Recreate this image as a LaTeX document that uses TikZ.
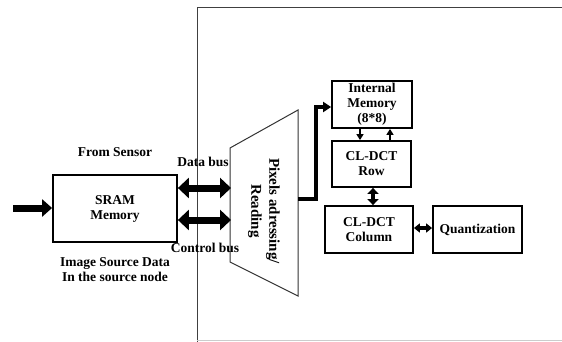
\documentclass[tikz,border=0pt]{standalone}
\usepackage{fontspec}
\setmainfont{Liberation Serif}
\usetikzlibrary{arrows.meta,calc}
\begin{document}
\begin{tikzpicture}[x=1pt,y=-1pt,
  every node/.style={font=\fontsize{13.5}{15}\selectfont\bfseries, align=center, inner sep=0pt},
  blk/.style={draw, line width=1.8pt},
  lbl/.style={},
  frameline/.style={draw=black!75, line width=1pt},
  bigarrow/.style={line width=7pt, -{Triangle[length=10pt,width=17pt]}},
  busarrow/.style={line width=7pt, {Triangle[length=11pt,width=20pt]}-{Triangle[length=11pt,width=20pt]}},
  outarrow/.style={line width=3.5pt, -{Triangle[length=8pt,width=10pt]}},
  thinarrow/.style={line width=1.3pt, -{Triangle[length=6pt,width=7pt]}},
  midarrow/.style={line width=4.5pt, {Triangle[length=6pt,width=11pt]}-{Triangle[length=6pt,width=11pt]}},
  smallbus/.style={line width=3.5pt, {Triangle[length=6pt,width=9pt]}-{Triangle[length=6pt,width=9pt]}}
]
\useasboundingbox (0,0) rectangle (562,342);
% frame
\draw[frameline] (562,8) -- (197,8) -- (197,342);
\draw[draw=black!20, line width=0.6pt] (197,340) -- (562,340);

% blocks
\node[blk, minimum width=124pt, minimum height=67pt] (sram) at (115,208.5) {SRAM\\Memory};
\node[blk, minimum width=80pt, minimum height=47pt] (im) at (372,104.5) {Internal\\Memory\\(8*8)};
\node[blk, minimum width=79pt, minimum height=46pt] (row) at (371.5,164) {CL-DCT\\Row};
\node[blk, minimum width=88pt, minimum height=47pt] (col) at (369,229.5) {CL-DCT\\Column};
\node[blk, minimum width=89pt, minimum height=47pt] (quant) at (477.5,229.5) {Quantization};

% trapezoid
\coordinate (tl) at (230,148);
\coordinate (bl) at (230,262);
\coordinate (tr) at (298,110);
\coordinate (br) at (298,296);
\draw[line width=1pt, draw=black!80] (tl) -- (tr) -- (br) -- (bl) -- cycle;
\node[rotate=-90, font=\fontsize{15}{18}\selectfont\bfseries] (pix) at (264,211) {Pixels adressing/\\Reading};

% labels
\node (fs) at (115,152) {From Sensor};
\node (dbl) at (203,162) {Data bus};
\node (cbl) at (205,248) {Control bus};
\node (isd) at (115,270) {Image Source Data\\In the source node};

% connectors
\coordinate (in) at (13,208);
\draw[bigarrow] (in) -- (sram.west |- in);
\coordinate (db) at (231,188);
\coordinate (cb) at (231,220);
\draw[busarrow] (sram.east |- db) -- (db);
\draw[busarrow] (sram.east |- cb) -- (cb);
\coordinate (pr) at (298,199);
\draw[outarrow, line join=miter] (pr) -- (316,199) -- (316,107) -- ([yshift=-2.5pt]im.west);
\draw[thinarrow] (im.south -| 360,0) -- (row.north -| 360,0);
\draw[thinarrow] (row.north -| 390,0) -- (im.south -| 390,0);
\draw[midarrow] (row.south -| 373,0) -- (col.north -| 373,0);
\draw[smallbus] (col.east |- 0,228) -- (quant.west |- 0,228);
\end{tikzpicture}
\end{document}
